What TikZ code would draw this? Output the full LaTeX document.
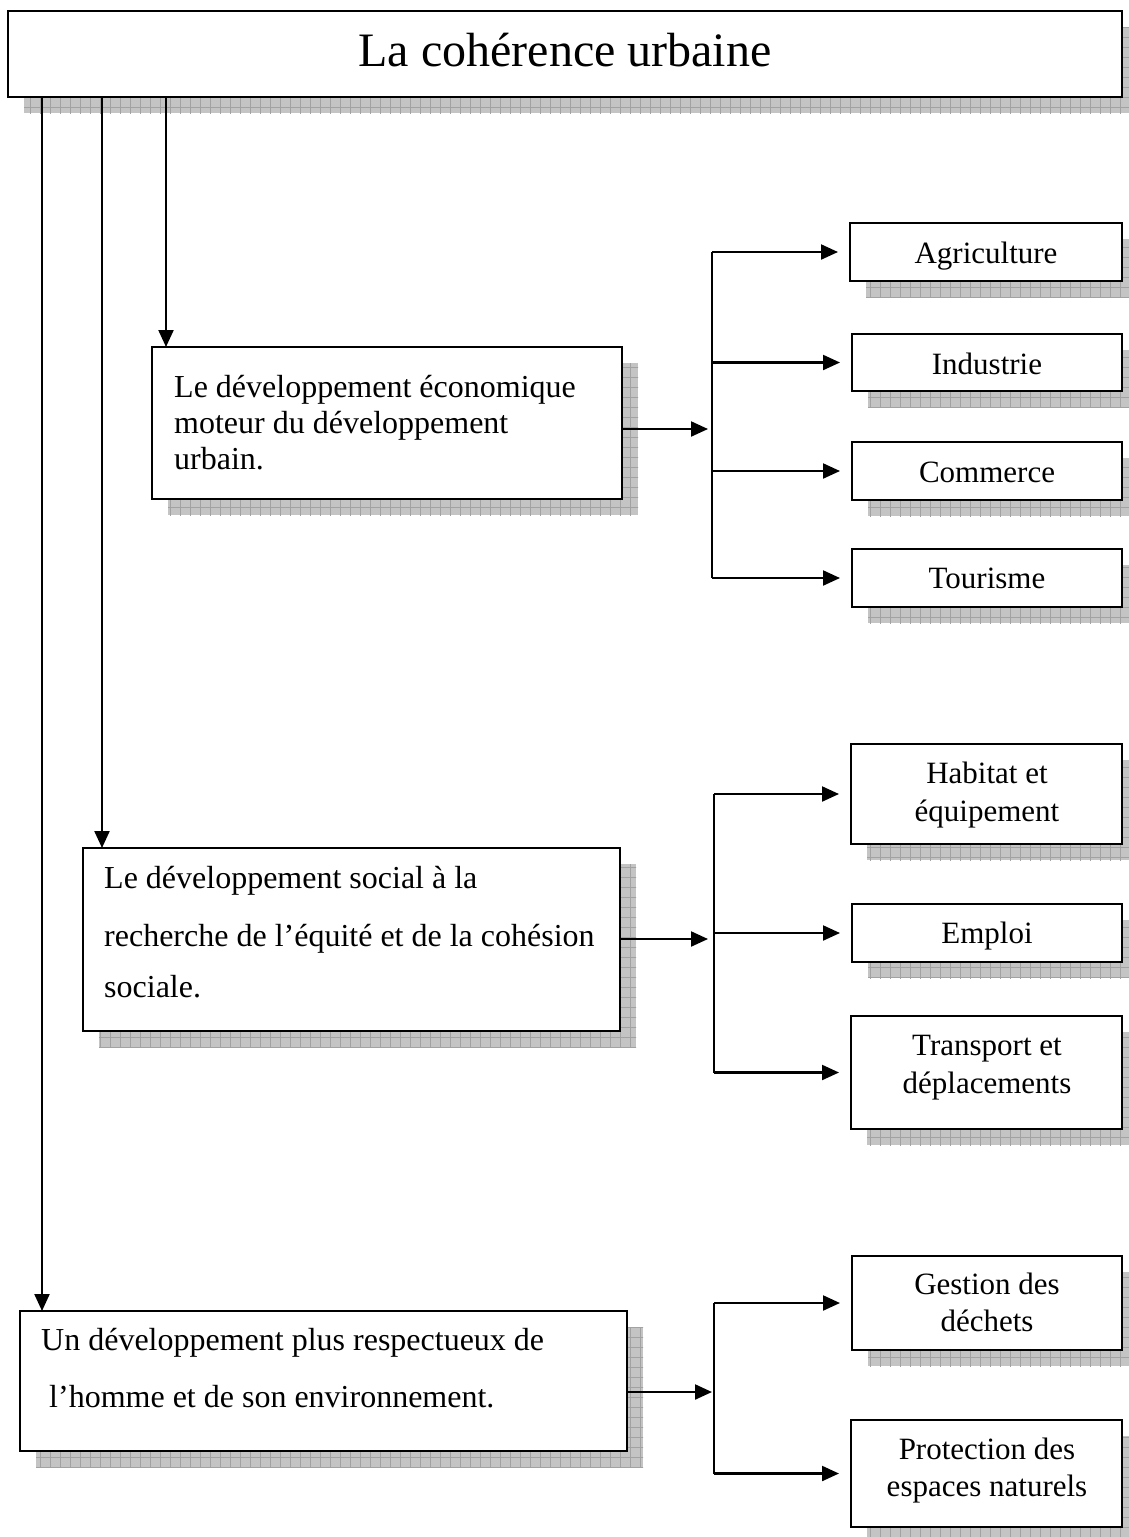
\documentclass[tikz,border=0pt]{standalone}
\usepackage{fontspec}
\setmainfont{Liberation Serif}
\usetikzlibrary{shadows,patterns.meta,arrows.meta}
\definecolor{shfill}{HTML}{C4C4C4}
\definecolor{shgrid}{HTML}{A2A2A2}
\begin{document}
\begin{tikzpicture}[x=1pt,y=-1pt,
  box/.style={draw=black, line width=2.6pt, fill=white, rectangle, inner sep=0pt, outer sep=0pt, anchor=north west,
    shadow xshift=16pt, shadow yshift=-16pt,
    general shadow={fill=shfill, draw=none},
    general shadow={draw=none, pattern={Hatch[distance=10pt,angle=0,line width=0.9pt]}, pattern color=shgrid}},
  conn/.style={line width=2.2pt},
  arr/.style={conn, -{Triangle[length=17pt,width=15pt]}},
  branch/.style={arr, shorten >=12pt},
  titletext/.style={font=\fontsize{48}{55}\selectfont, anchor=base, inner sep=0pt},
  maintext/.style={font=\fontsize{32}{37}\selectfont, anchor=base west, inner sep=0pt},
  childtext/.style={font=\fontsize{31}{36}\selectfont, anchor=base, inner sep=0pt},
]
\useasboundingbox (0,0) rectangle (1129,1537);

% boxes
\node[box, minimum width=1114, minimum height=86] (title) at (8,11) {};
\node[box, minimum width=470, minimum height=152] (eco) at (152,347) {};
\node[box, minimum width=537, minimum height=183] (soc) at (83,848) {};
\node[box, minimum width=607, minimum height=140] (env) at (20,1311) {};

\node[box, minimum width=272, minimum height=58] (agr) at (850,223) {};
\node[box, minimum width=270, minimum height=57] (ind) at (852,334) {};
\node[box, minimum width=270, minimum height=58] (com) at (852,442) {};
\node[box, minimum width=270, minimum height=58] (tou) at (852,549) {};
\node[box, minimum width=271, minimum height=100] (hab) at (851,744) {};
\node[box, minimum width=270, minimum height=58] (emp) at (852,904) {};
\node[box, minimum width=271, minimum height=113] (tra) at (851,1016) {};
\node[box, minimum width=270, minimum height=94] (ges) at (852,1256) {};
\node[box, minimum width=271, minimum height=107] (pro) at (851,1420) {};

% texts
\node[titletext] (titlet) at (565,66) {La cohérence urbaine};

\node[maintext] (eco1) at (174,397) {Le développement économique};
\node[maintext] (eco2) at (174,433) {moteur du développement};
\node[maintext] (eco3) at (174,469) {urbain.};

\node[maintext] (soc1) at (104,888) {Le développement social à la};
\node[maintext] (soc2) at (104,946) {recherche de l’équité et de la cohésion};
\node[maintext] (soc3) at (104,997) {sociale.};

\node[maintext] (env1) at (41,1350) {Un développement plus respectueux de};
\node[maintext] (env2) at (49,1407) {l’homme et de son environnement.};

\node[childtext] (agrt) at (986,263) {Agriculture};
\node[childtext] (indt) at (987,374) {Industrie};
\node[childtext] (comt) at (987,482) {Commerce};
\node[childtext] (tout) at (987,588) {Tourisme};
\node[childtext] (hab1) at (987,783) {Habitat et};
\node[childtext] (hab2) at (987,821) {équipement};
\node[childtext] (empt) at (987,943) {Emploi};
\node[childtext] (tra1) at (987,1055) {Transport et};
\node[childtext] (tra2) at (987,1093) {déplacements};
\node[childtext] (ges1) at (987,1294) {Gestion des};
\node[childtext] (ges2) at (987,1331) {déchets};
\node[childtext] (pro1) at (987,1459) {Protection des};
\node[childtext] (pro2) at (987,1496) {espaces naturels};

% helper coordinates
\coordinate (x1) at (42,0);
\coordinate (x2) at (102,0);
\coordinate (x3) at (166,0);
\coordinate (b1) at (712,0);
\coordinate (b2) at (714,0);
\coordinate (b3) at (714,0);
\coordinate (i1) at (0,429);
\coordinate (i2) at (0,939);
\coordinate (i3) at (0,1392);

% connectors from title
\draw[arr] (title.south -| x1) -- (env.north -| x1);
\draw[arr] (title.south -| x2) -- (soc.north -| x2);
\draw[arr] (title.south -| x3) -- (eco.north -| x3);

% economic branch
\draw[arr, shorten >=4pt] (eco.east |- i1) -- (b1 |- i1);
\draw[conn] (b1 |- agr.west) -- (b1 |- tou.west);
\draw[branch] (b1 |- agr.west) -- (agr.west);
\draw[branch] (b1 |- ind.west) -- (ind.west);
\draw[branch] (b1 |- com.west) -- (com.west);
\draw[branch] (b1 |- tou.west) -- (tou.west);

% social branch
\draw[arr, shorten >=6pt] (soc.east |- i2) -- (b2 |- i2);
\draw[conn] (b2 |- hab.west) -- (b2 |- tra.west);
\draw[branch] (b2 |- hab.west) -- (hab.west);
\draw[branch] (b2 |- emp.west) -- (emp.west);
\draw[branch] (b2 |- tra.west) -- (tra.west);

% environment branch
\draw[arr, shorten >=2pt] (env.east |- i3) -- (b3 |- i3);
\draw[conn] (b3 |- ges.west) -- (b3 |- pro.west);
\draw[branch] (b3 |- ges.west) -- (ges.west);
\draw[branch] (b3 |- pro.west) -- (pro.west);
\end{tikzpicture}
\end{document}
